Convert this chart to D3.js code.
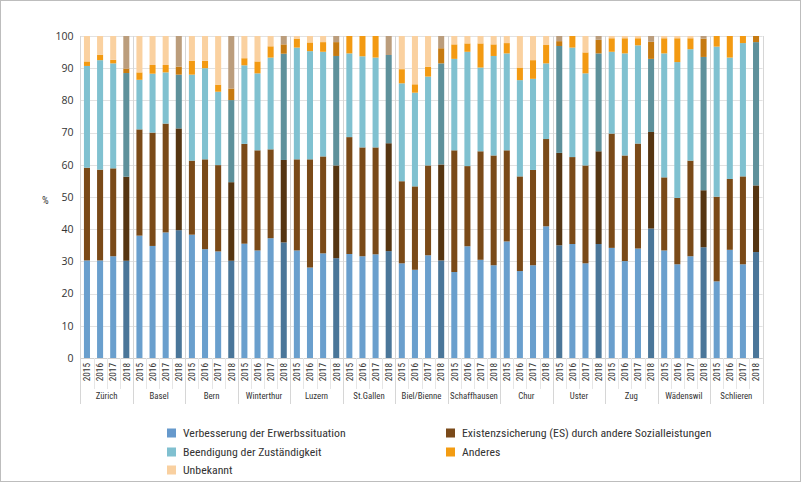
<!DOCTYPE html>
<html><head><meta charset="utf-8">
<script src="https://cdn.jsdelivr.net/npm/d3@7"></script>
<style>
html,body{margin:0;padding:0;background:#fff;}
svg{display:block;font-family:"Liberation Sans Narrow","Roboto Condensed","Open Sans",sans-serif;}
</style></head>
<body><svg id="c" width="805" height="484"></svg>
<script>
const cities = ["Zürich","Basel","Bern","Winterthur","Luzern","St.Gallen","Biel/Bienne","Schaffhausen","Chur","Uster","Zug","Wädenswil","Schlieren"];
const years = ["2015","2016","2017","2018"];
const seriesNames = ["Verbesserung der Erwerbssituation","Existenzsicherung (ES) durch andere Sozialleistungen","Beendigung der Zuständigkeit","Anderes","Unbekannt"];
// values per city, 4 years each (%)
const verbesserung = [30.3,30.3,31.6,30.2, 38.0,34.8,39.0,39.7, 38.3,33.8,33.1,30.2, 35.5,33.4,37.2,35.9, 33.4,28.1,32.5,31.0, 32.3,31.6,32.2,33.2, 29.4,27.4,31.9,30.3, 26.7,34.7,30.5,28.8, 36.2,27.0,28.8,40.9, 35.0,35.4,29.4,35.4, 34.2,30.1,34.0,40.2, 33.4,29.1,31.6,34.4, 23.8,33.6,29.1,32.9];
const existenz = [28.8,28.2,27.3,26.1, 33.0,35.2,33.8,31.6, 23.0,27.9,26.8,24.4, 31.0,31.1,27.6,25.6, 28.3,33.6,30.1,28.8, 36.3,33.8,33.2,33.5, 25.5,25.9,27.9,29.8, 37.8,24.9,33.7,34.1, 28.3,29.4,29.6,27.1, 28.7,27.0,30.4,28.8, 35.5,32.8,32.6,30.0, 22.7,20.6,29.7,17.7, 26.3,22.0,27.3,20.7];
const beendigung = [31.6,34.0,32.6,32.2, 15.4,18.3,15.9,16.7, 26.7,28.3,22.8,25.5, 24.4,23.9,28.5,33.0, 34.7,33.6,32.5,34.0, 26.0,28.3,27.9,27.4, 30.4,29.1,27.6,31.4, 28.4,35.5,26.0,30.9, 30.1,29.9,28.3,23.5, 33.2,34.0,28.6,30.4, 25.4,31.7,30.5,22.7, 38.5,42.2,34.6,41.4, 46.6,37.7,41.4,44.5];
const anderes = [1.4,1.7,1.1,1.4, 2.3,2.7,2.3,2.5, 4.3,2.3,2.2,3.6, 2.2,3.7,3.5,2.9, 2.8,2.7,3.0,4.3, 5.4,6.3,6.7,0.0, 4.4,2.6,3.0,4.7, 4.5,2.6,7.5,3.6, 3.2,3.9,5.8,5.7, 1.5,3.6,6.5,4.2, 4.2,4.7,2.2,5.3, 4.7,7.4,3.4,5.7, 3.3,6.7,2.2,1.9];
const unbekannt = [7.9,5.8,7.4,10.1, 11.3,9.0,9.0,9.5, 7.7,7.7,15.1,16.3, 6.9,7.9,3.2,2.6, 0.8,2.0,1.9,1.9, 0.0,0.0,0.0,5.9, 10.3,15.0,9.6,3.8, 2.6,2.3,2.3,2.6, 2.2,9.8,7.5,2.8, 1.6,0.0,5.1,1.2, 0.7,0.7,0.7,1.8, 0.7,0.7,0.7,0.8, 0.0,0.0,0.0,0.0];
// bars shown in darker tone
const darker = ["Zürich 2018","Basel 2018","Bern 2018","Winterthur 2018","Luzern 2018","St.Gallen 2018","Biel/Bienne 2018","Uster 2015","Uster 2018","Zug 2018","Wädenswil 2018","Schlieren 2018"];
const yTicks = [0,10,20,30,40,50,60,70,80,90,100];

const colors = ["#6a9fcd","#7a4a18","#80c1d0","#f39a12","#fad1a0"];
const darkColors = ["#4a7699","#553511","#5e919b","#c67a10","#bb9d7c"];
const legendColors = ["#6699cc","#7a4a1a","#80c0d0","#f39c12","#f9d0a0"];

const svg = d3.select("#c");
const L = 80.4, R = 762.6, T = 36, B = 358;
const keys = [];
cities.forEach(c => years.forEach(y => keys.push(c + " " + y)));
const rows = keys.map((k,i) => {
  const r = {key:k, city:cities[Math.floor(i/4)], year:years[i%4]};
  [verbesserung[i],existenz[i],beendigung[i],anderes[i],unbekannt[i]].forEach((v,j)=>{ r[j]=v; });
  return r;
});

const x = d3.scaleBand().domain(keys).range([L,R]).paddingInner(0.54).paddingOuter(0.27);
const y = d3.scaleLinear().domain([0,100]).range([B,T]);
const step = x.step();

// frame
svg.append("rect").attr("x",0.5).attr("y",0.5).attr("width",800).attr("height",481).attr("fill","none").attr("stroke","#bdbdbd");

// gridlines
svg.append("g").selectAll("line").data(yTicks).join("line")
  .attr("x1",L).attr("x2",R).attr("y1",d=>Math.round(y(d))+0.5).attr("y2",d=>Math.round(y(d))+0.5)
  .attr("stroke","#e2e2e2").attr("stroke-width",1);

// y axis labels
const yAxis = d3.axisLeft(y).tickValues(yTicks).tickSize(0).tickPadding(7);
const ya = svg.append("g").attr("transform",`translate(${L},0)`).call(yAxis);
ya.select(".domain").remove();
ya.selectAll("text").attr("font-size",10.5).attr("fill","#333").style("font-family","'Liberation Sans Narrow','Open Sans',sans-serif");
svg.append("text").attr("x",42).attr("y",204).attr("font-size",10.5).attr("fill","#333").text("%");

// stacked bars
const series = d3.stack().keys([0,1,2,3,4])(rows);
series.forEach((s,j) => {
  svg.append("g").selectAll("rect").data(s).join("rect")
    .attr("x", d => x(d.data.key))
    .attr("width", x.bandwidth())
    .attr("y", d => y(d[1]))
    .attr("height", d => Math.max(0, y(d[0]) - y(d[1])))
    .attr("fill", d => darker.includes(d.data.key) ? darkColors[j] : colors[j]);
});

// axis line
svg.append("line").attr("x1",L).attr("x2",R).attr("y1",B+0.5).attr("y2",B+0.5).attr("stroke","#d0d0d0");
// small separators between years
svg.append("g").selectAll("line").data(keys).join("line")
  .attr("x1",d=>Math.round(x(d)+x.bandwidth()/2 - step/2)+0.5)
  .attr("x2",d=>Math.round(x(d)+x.bandwidth()/2 - step/2)+0.5)
  .attr("y1",B).attr("y2",B+31).attr("stroke","#e6e6e6");
// group separators
const groupEdges = cities.map(c => x(c+" 2015") + x.bandwidth()/2 - step/2);
groupEdges.push(R);
svg.append("g").selectAll("line").data(groupEdges).join("line")
  .attr("x1",d=>Math.round(d)+0.5).attr("x2",d=>Math.round(d)+0.5)
  .attr("y1",T).attr("y2",404).attr("stroke","#d6d6d6");

// year labels
svg.append("g").selectAll("text").data(rows).join("text")
  .attr("transform", d => `translate(${x(d.key)+x.bandwidth()/2+3.3},${B+5}) rotate(-90)`)
  .attr("text-anchor","end").attr("font-size",9.3).attr("fill","#333").text(d=>d.year);

// city labels
svg.append("g").selectAll("text").data(cities).join("text")
  .attr("x", c => (x(c+" 2015") + x(c+" 2018") + x.bandwidth())/2)
  .attr("y", 399).attr("text-anchor","middle").attr("font-size",8.8).attr("fill","#333").text(c=>c);

// legend
const legendPos = [[167,433],[446,433],[167,452],[446,452],[167,470]];
const lg = svg.append("g").selectAll("g").data([0,1,2,3,4]).join("g")
  .attr("transform",(d,i)=>`translate(${legendPos[i][0]},${legendPos[i][1]})`);
lg.append("rect").attr("x",0).attr("y",-4.5).attr("width",9).attr("height",9).attr("fill",d=>legendColors[d]);
lg.append("text").attr("x",16).attr("y",4).attr("font-size",11.8).attr("fill","#333").text(d=>seriesNames[d]);
</script></body></html>
